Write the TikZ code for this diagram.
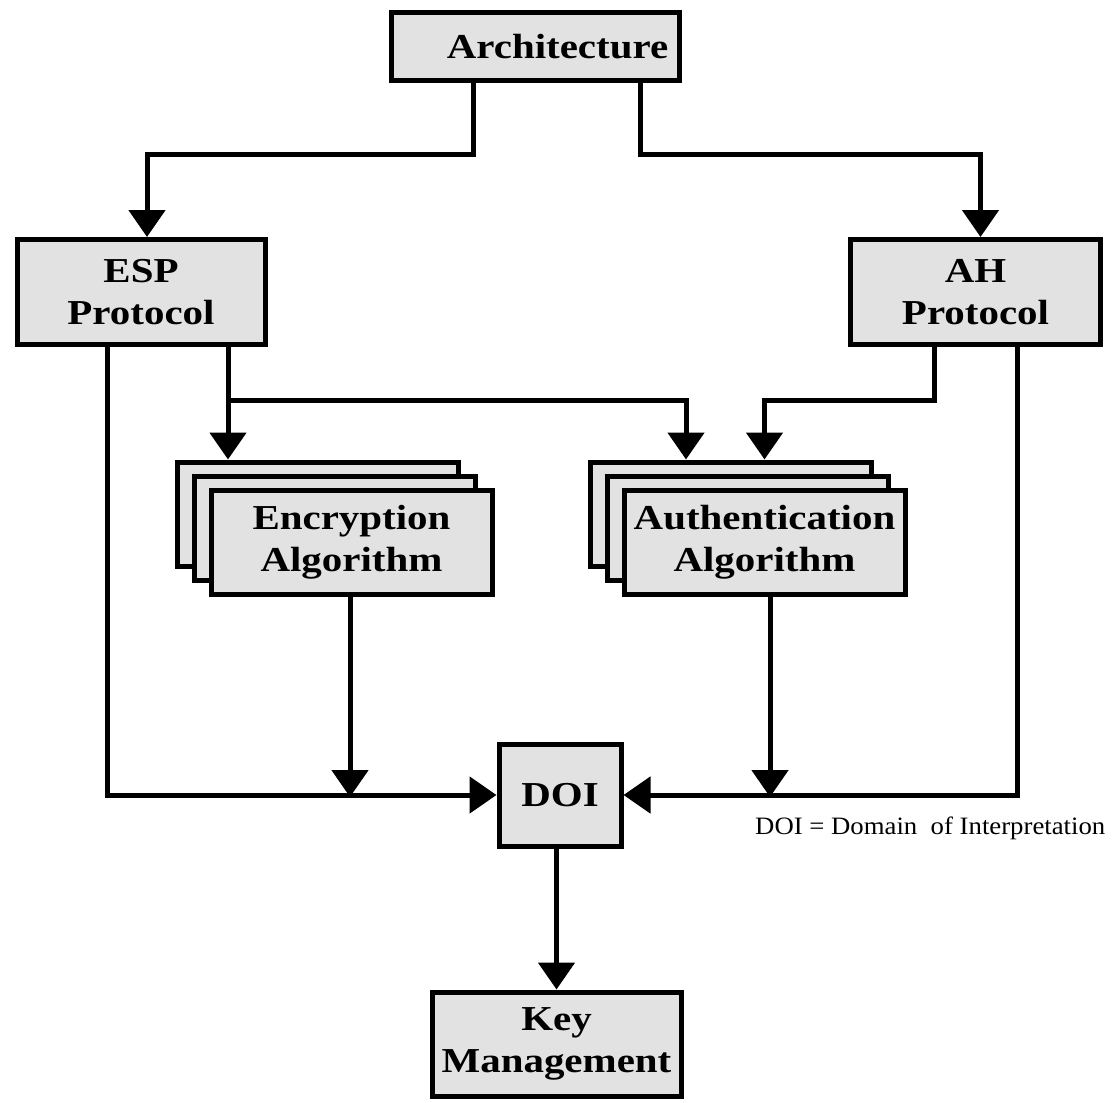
\documentclass[tikz,border=0pt]{standalone}
\usepackage{fontspec}
\setmainfont{Liberation Serif}[FakeStretch=1.17]
\newfontfamily\notefont{Liberation Serif}[FakeStretch=1.07]
\usetikzlibrary{arrows.meta}
\definecolor{boxgray}{HTML}{E2E2E2}
\tikzset{
  block/.style={draw=black, fill=boxgray, line width=5pt, rectangle,
    inner sep=0pt, align=center, font=\fontsize{35}{42}\selectfont\bfseries},
  conn/.style={line width=5pt},
  arr/.style={conn, -{Triangle[width=36pt,length=27pt]}},
  note/.style={font=\notefont\fontsize{25}{29}\selectfont, inner sep=0pt}
}
\begin{document}
\begin{tikzpicture}[x=1pt,y=-1pt]
  \useasboundingbox (0,0) rectangle (1115,1102);

  % top and protocol boxes
  \node[block, minimum width=288pt, minimum height=68pt] (arch) at (535.5,46.5) {\hspace*{44pt}Architecture};
  \node[block, minimum width=248pt, minimum height=105pt] (esp) at (141,292) {ESP\\Protocol};
  \node[block, minimum width=250pt, minimum height=105pt] (ah) at (975.5,292) {AH\\Protocol};

  % encryption algorithm stack
  \node[block, minimum width=281pt, minimum height=104pt] (encC) at (318,514) {};
  \node[block, minimum width=281pt, minimum height=104pt] (encB) at (335,528) {};
  \node[block, minimum width=281pt, minimum height=104pt] (enc) at (351.5,542.5) {Encryption\\Algorithm};

  % authentication algorithm stack
  \node[block, minimum width=281pt, minimum height=104pt] (authC) at (730.5,514) {};
  \node[block, minimum width=281pt, minimum height=104pt] (authB) at (747.5,528) {};
  \node[block, minimum width=281pt, minimum height=104pt] (auth) at (764.5,542.5) {Authentication\\Algorithm};

  % DOI and key management
  \node[block, minimum width=122pt, minimum height=102pt] (doi) at (560,795) {DOI};
  \node[block, minimum width=249pt, minimum height=104pt] (key) at (556.5,1044) {Key\\Management};

  \node[note, anchor=base west] (legend) at (755,834) {DOI = Domain\ \ of Interpretation};

  % branch points
  \coordinate (archL) at (473,0);
  \coordinate (archR) at (640,0);
  \coordinate (espL) at (107,0);
  \coordinate (espR) at (228,0);
  \coordinate (ahL) at (934,0);
  \coordinate (ahR) at (1017,0);
  \coordinate (bus) at (0,400);
  \coordinate (authIn) at (686,0);
  \coordinate (encOut) at (350,797);
  \coordinate (authOut) at (770,797);

  % architecture to the protocols
  \draw[arr] (arch.south -| archL) -- ++(0,72) -| ([xshift=6pt]esp.north);
  \draw[arr] (arch.south -| archR) -- ++(0,72) -| ([xshift=5pt]ah.north);

  % protocols to the algorithms
  \draw[arr] (esp.south -| espR) -- (encC.north -| espR);
  \draw[arr] (bus -| espR) -| (authC.north -| authIn);
  \draw[arr] (ah.south -| ahL) |- (bus -| auth.north) -- (authC.north -| auth.north);

  % paths into DOI
  \draw[arr] (esp.south -| espL) |- (doi.west);
  \draw[arr] (ah.south -| ahR) |- (doi.east);
  \draw[arr] (enc.south -| encOut) -- (encOut);
  \draw[arr] (auth.south -| authOut) -- (authOut);

  % DOI to key management
  \draw[arr] (doi.south -| key.north) -- (key.north);
\end{tikzpicture}
\end{document}
